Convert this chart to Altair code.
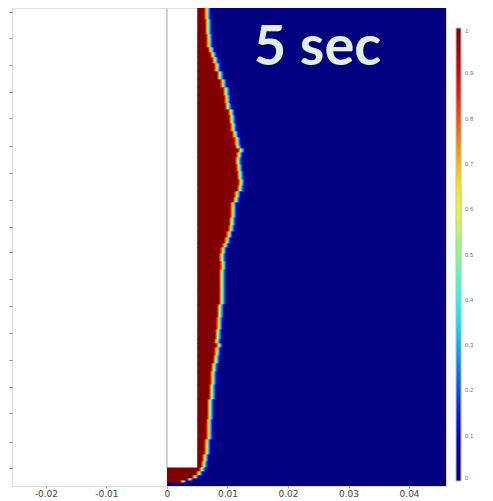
import altair as alt
import pandas as pd

# ---------------- data ----------------
x_domain = [-0.0256, 0.0461]
y_domain = [0, 478]
x_ticks = [-0.02, -0.01, 0.0, 0.01, 0.02, 0.03, 0.04]
y_ticks = [474, 448, 421, 394, 368, 340, 313, 286, 259, 234, 207, 180, 153, 126, 99, 73, 44, 18]

electrode_left = 0.0
electrode_right = 0.005
electrode_bottom = 18  # below this the deposit spans from x = 0

# top of each horizontal band of the field, and the x position of the red/blue front in it
row_top = [478, 466, 451, 438, 433, 428, 422, 414, 406, 398, 390, 382, 376, 370, 362,
           354, 348, 340, 337, 333, 328, 321, 314, 306, 300, 294, 288, 283, 276, 268,
           260, 254, 248, 242, 238, 232, 224, 216, 196, 181, 168, 156, 146, 142, 138,
           130, 122, 114, 101, 86, 66, 46, 31, 24, 18, 14, 10, 7, 5, 3]
front_x = [0.00661, 0.00678, 0.00694, 0.00727, 0.00760, 0.00793, 0.00826, 0.00876, 0.00926, 0.00975,
           0.00992, 0.01008, 0.01058, 0.01074, 0.01091, 0.01124, 0.01157, 0.01174, 0.01223, 0.01190,
           0.01174, 0.01190, 0.01207, 0.01223, 0.01207, 0.01157, 0.01140, 0.01091, 0.01091, 0.01074,
           0.01058, 0.01025, 0.00992, 0.00959, 0.00926, 0.00909, 0.00926, 0.00909, 0.00909, 0.00876,
           0.00860, 0.00843, 0.00826, 0.00860, 0.00826, 0.00810, 0.00777, 0.00760, 0.00744, 0.00711,
           0.00694, 0.00661, 0.00628, 0.00612, 0.00579, 0.00529, 0.00463, 0.00380, 0.00264, 0.0]

# diffuse interface profile across the front (offset from front, phase value)
interface_offsets = [-0.0005, -0.00025, 0.0, 0.00022, 0.00044, 0.00066]
interface_values = [0.86, 0.66, 0.45, 0.28, 0.12]

# jet colour map
jet_stops = [0.0, 0.125, 0.25, 0.375, 0.5, 0.625, 0.75, 0.875, 1.0]
jet_colors = ["#000080", "#0000ff", "#0080ff", "#00ffff", "#80ff80",
              "#ffff00", "#ff8000", "#ff0000", "#800000"]
legend_values = [0, 0.1, 0.2, 0.3, 0.4, 0.5, 0.6, 0.7, 0.8, 0.9, 1]

label_text = ["5 sec"]
label_x = [0.02488]
label_y = [421]

rule_x = [0.0]
rule_y = [electrode_bottom]
rule_y2 = [478]

# ---------------- build the field table ----------------
seam_x = 0.00008   # small overlap so neighbouring cells leave no hairline gaps
seam_y = 0.6
records = []
for i, top in enumerate(row_top):
    bottom = row_top[i + 1] if i + 1 < len(row_top) else 0
    f = front_x[i]
    start = electrode_right if top > electrode_bottom else electrode_left
    y2 = min(top + seam_y, y_domain[1])
    if f > 0:
        records.append(dict(x=start, x2=f + interface_offsets[0] + seam_x, y=bottom, y2=y2, v=1.0))
        for k, val in enumerate(interface_values):
            records.append(dict(x=f + interface_offsets[k], x2=f + interface_offsets[k + 1] + seam_x,
                                y=bottom, y2=y2, v=val))
        records.append(dict(x=f + interface_offsets[-1], x2=x_domain[1], y=bottom, y2=y2, v=0.0))
    else:
        records.append(dict(x=electrode_left, x2=x_domain[1], y=bottom, y2=y2, v=0.0))
field = pd.DataFrame(records)

xs = alt.Scale(domain=x_domain, nice=False, zero=False)
ys = alt.Scale(domain=y_domain, nice=False, zero=False)
cs = alt.Scale(domain=jet_stops, range=jet_colors, interpolate="rgb")

x_axis = alt.Axis(values=x_ticks, title=None, grid=False, domain=False, tickSize=2,
                  tickColor="#999", labelFontSize=9, labelColor="#444", labelPadding=1,
                  labelFont="DejaVu Sans", tickCount=20,
                  labelExpr="datum.value < 0 ? '-' + format(-datum.value, '~g') : format(datum.value, '~g')")
y_axis = alt.Axis(values=y_ticks, title=None, grid=False, domain=False, labels=True,
                  labelOpacity=0, labelOverlap=False, labelFontSize=4, tickCount=40,
                  tickSize=3, tickColor="#888")

heat = alt.Chart(field).mark_rect(strokeWidth=0).encode(
    x=alt.X("x:Q", scale=xs, axis=x_axis),
    x2="x2:Q",
    y=alt.Y("y:Q", scale=ys, axis=y_axis),
    y2="y2:Q",
    color=alt.Color("v:Q", scale=cs, legend=alt.Legend(
        type="gradient",
        orient="none", legendX=444, legendY=20, direction="vertical",
        gradientLength=453, gradientThickness=5, values=legend_values, format="~g",
        title=None, labelFontSize=6, labelColor="#777", labelOffset=4, tickCount=20,
        gradientStrokeColor="#bbb", gradientStrokeWidth=1, padding=0)),
)

rule = alt.Chart(pd.DataFrame({"rx": rule_x, "ry": rule_y, "ry2": rule_y2})).mark_rule(
    color="#c4c4c4", strokeWidth=1.5).encode(
    x=alt.X("rx:Q", scale=xs), y=alt.Y("ry:Q", scale=ys), y2="ry2:Q")

label = alt.Chart(pd.DataFrame({"t": label_text, "tx": label_x, "ty": label_y})).mark_text(
    font="Lato", fontWeight="bold", fontSize=56, color="#E2EFDA",
    align="center", baseline="alphabetic").encode(
    x=alt.X("tx:Q", scale=xs), y=alt.Y("ty:Q", scale=ys), text="t:N")

chart = alt.layer(rule, heat, label).properties(
    width=434, height=478,
    autosize=alt.AutoSizeParams(type="none"),
    padding={"left": 12, "top": 8, "right": 47, "bottom": 15},
).configure_view(stroke="#d0d0d0", strokeWidth=1).configure(background="white")

chart.save("out.html", embed_options={"renderer": "svg", "actions": False})
